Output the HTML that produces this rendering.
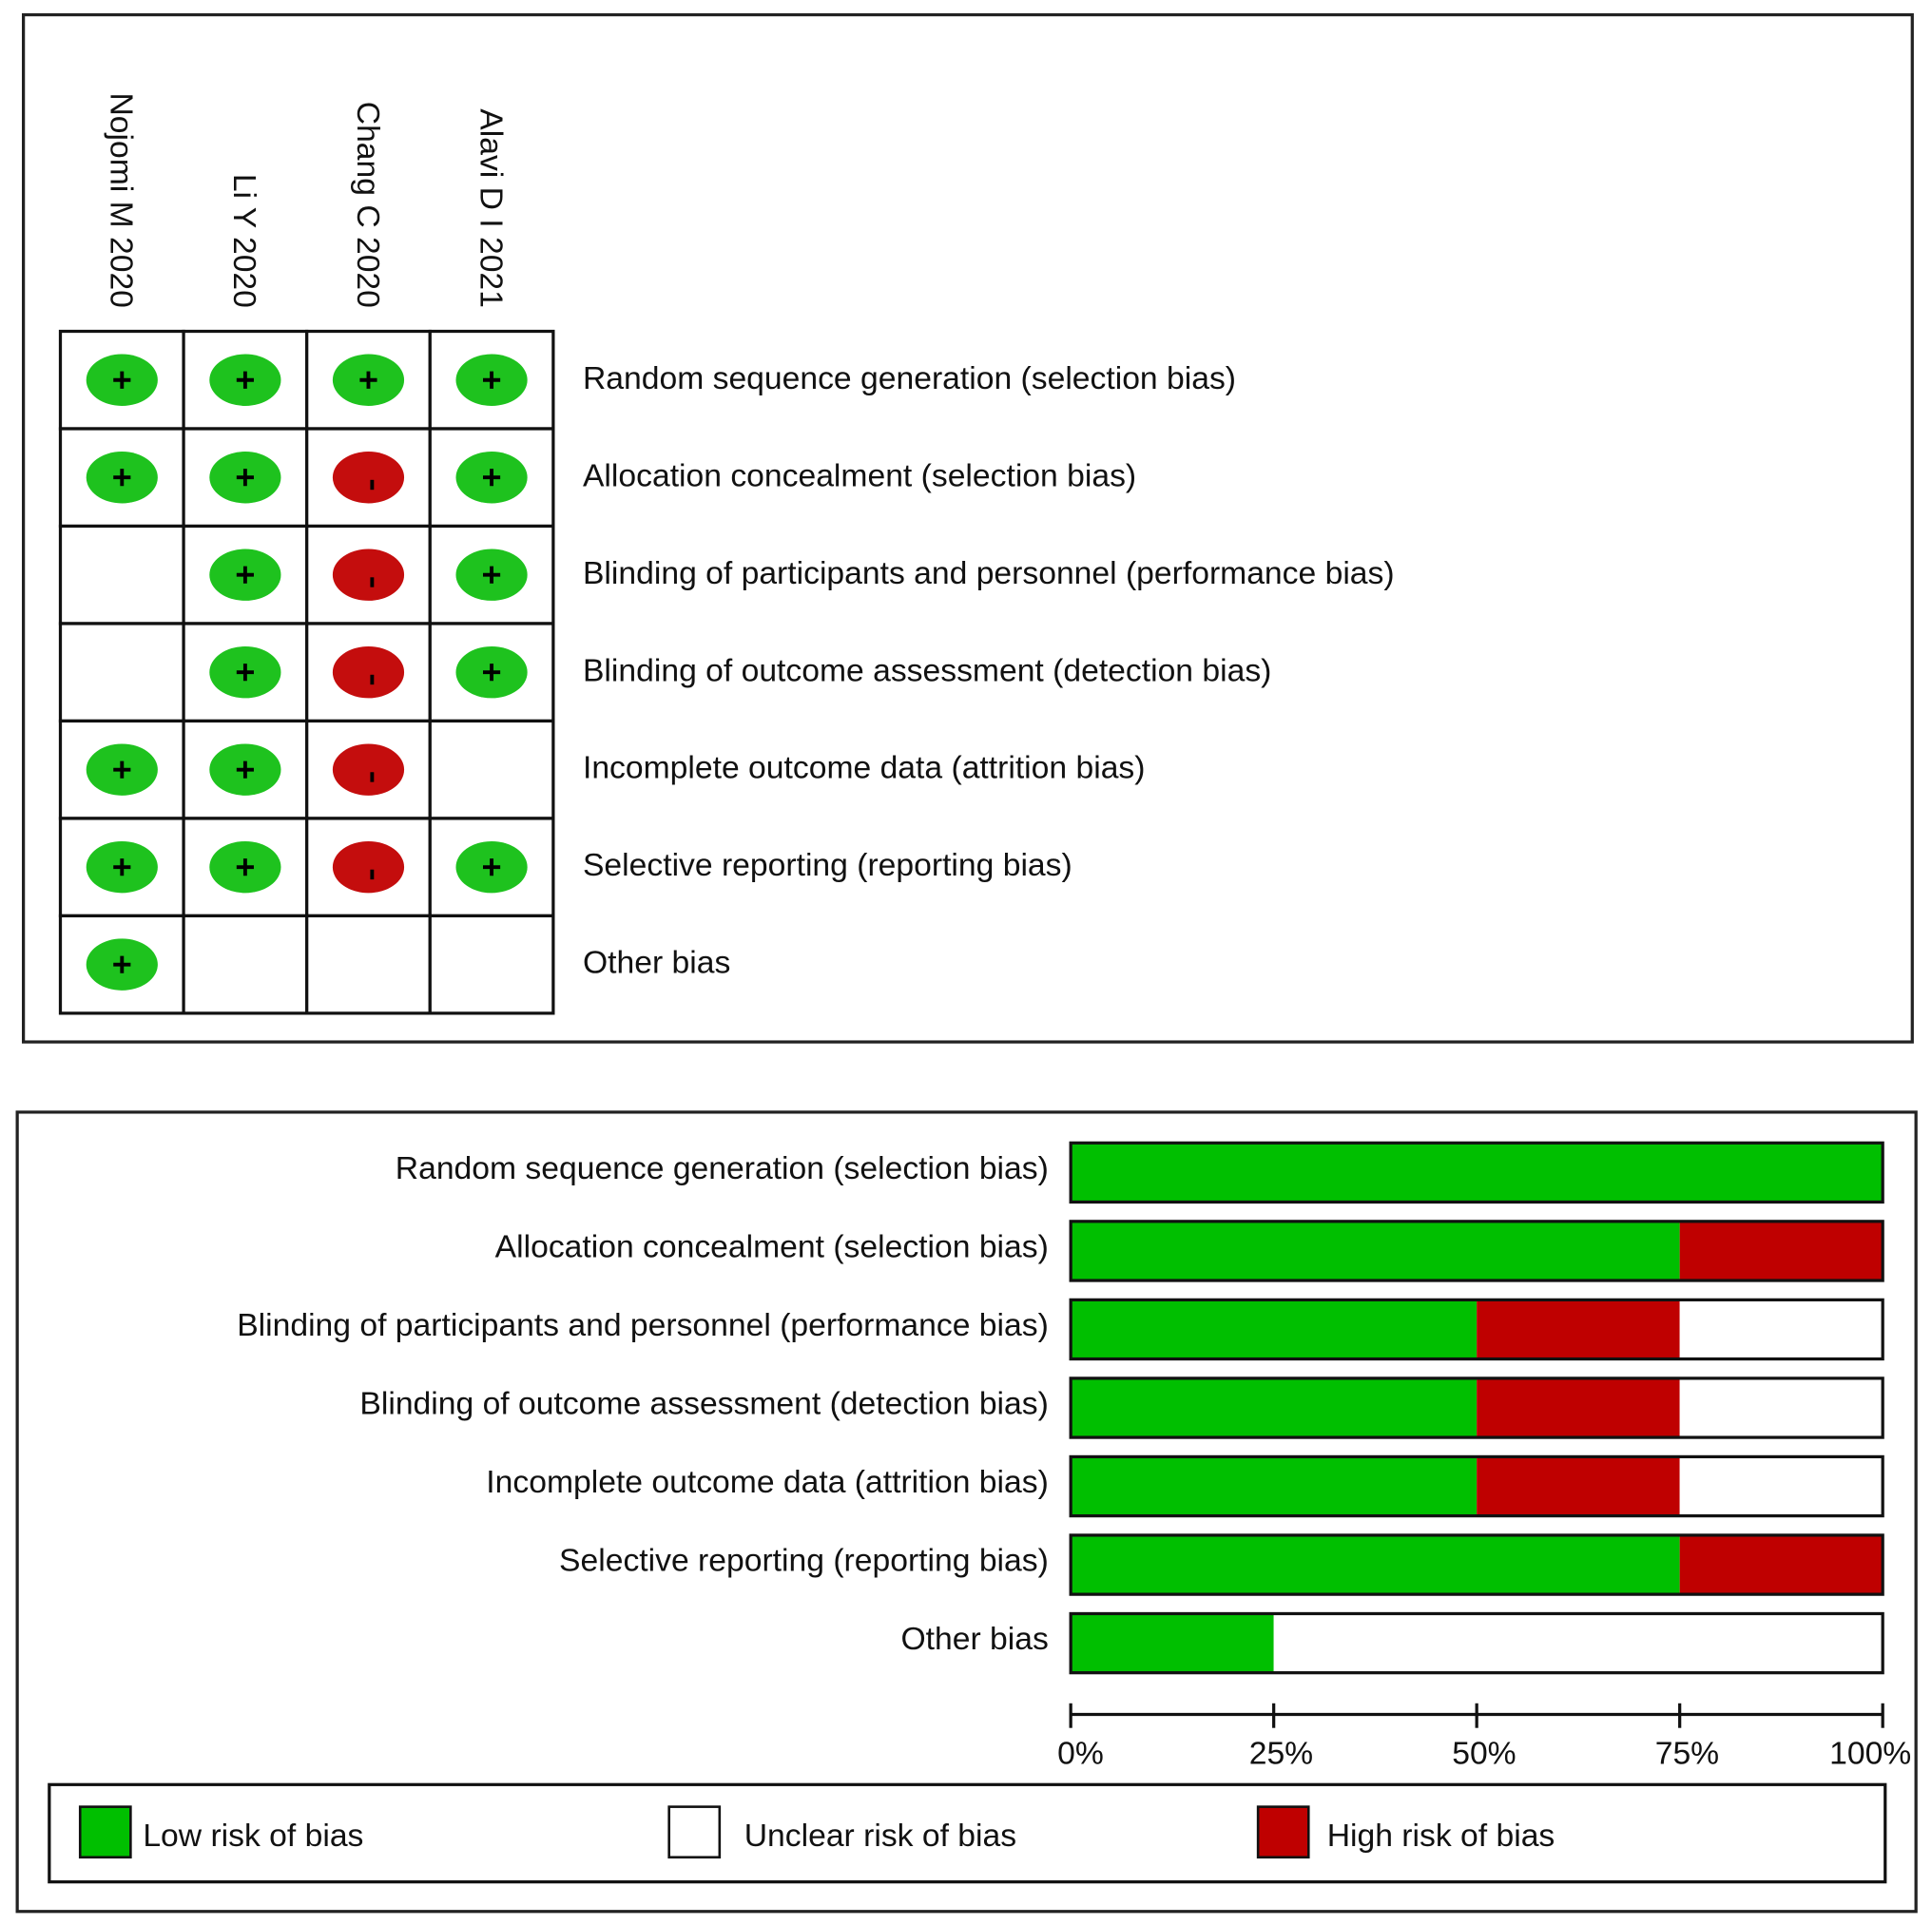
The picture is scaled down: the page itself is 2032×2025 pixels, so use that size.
<!DOCTYPE html>
<html><head><meta charset="utf-8"><style>html,body{margin:0;padding:0;background:#fff}svg{display:block}text{font-family:"Liberation Sans",Arial,sans-serif;fill:#111}</style></head>
<body>
<svg id="chart" width="2032" height="2025" viewBox="0 0 1568 1563" preserveAspectRatio="none" xmlns="http://www.w3.org/2000/svg">
<rect x="19" y="12" width="1533" height="834" fill="#fff" stroke="#222" stroke-width="2.5"/>
<rect x="14" y="903" width="1541" height="649" fill="#fff" stroke="#222" stroke-width="2.5"/>
<g id="topg"></g>
<g id="bottom"></g>
<g id="legend"></g>
</svg>
<script>
const domains=["Random sequence generation (selection bias)","Allocation concealment (selection bias)","Blinding of participants and personnel (performance bias)","Blinding of outcome assessment (detection bias)","Incomplete outcome data (attrition bias)","Selective reporting (reporting bias)","Other bias"];
const studies=["Nojomi M 2020","Li Y 2020","Chang C 2020","Alavi D I 2021"];
const judgNojomi=["+","+","","","+","+","+"];
const judgLi=["+","+","+","+","+","+",""];
const judgChang=["+","-","-","-","-","-",""];
const judgAlavi=["+","+","+","+","","+",""];
const lowPct=[100,75,50,50,50,75,25];
const unclearPct=[0,0,25,25,25,0,75];
const highPct=[0,25,25,25,25,25,0];
const ticks=["0%","25%","50%","75%","100%"];

const NS="http://www.w3.org/2000/svg";
function mk(tag,attrs,parent,txt){const e=document.createElementNS(NS,tag);for(const k in attrs)e.setAttribute(k,attrs[k]);if(txt!==undefined)e.textContent=txt;parent.appendChild(e);return e;}
const GREEN="#00bf00",RED="#bf0000",CG="#1ec21e",CR="#c40d0d";
const FS=26;
const topG=document.getElementById("topg"),bot=document.getElementById("bottom"),leg=document.getElementById("legend");
const gx0=49,cw=100,gy0=269,rh=79.1;
const colX=i=>gx0+i*cw, rowY=j=>gy0+j*rh;
const judg=[judgNojomi,judgLi,judgChang,judgAlavi];
studies.forEach((s,i)=>{
  const t=mk("text",{x:0,y:0,"font-size":FS,"text-anchor":"end",transform:`translate(${colX(i)+cw/2-9},250) rotate(90)`},topG,s);
  
  
});
domains.forEach((d,j)=>{
  const t=mk("text",{x:473,y:rowY(j)+rh/2+7,"font-size":FS},topG,d);
  
  
  studies.forEach((s,i)=>{
    const r=mk("rect",{x:colX(i),y:rowY(j),width:cw,height:rh,fill:"#fff",stroke:"#111","stroke-width":2.5},topG);
    
    
  });
});
studies.forEach((s,i)=>{domains.forEach((d,j)=>{
  const v=judg[i][j]; if(!v) return;
  const cx=colX(i)+cw/2, cy=rowY(j)+rh/2;
  const e=mk("ellipse",{cx:cx,cy:cy,rx:29,ry:21,fill:v==="+"?CG:CR},topG);
  
  
  if(v==="+"){mk("path",{d:`M${cx-7} ${cy}H${cx+7}M${cx} ${cy-7}V${cy+7}`,stroke:"#000","stroke-width":3},topG);}
  else{mk("path",{d:`M${cx+3} ${cy+2}V${cy+10}`,stroke:"#000","stroke-width":3},topG);}
});});
const bx0=869,bw=659,by0=928,bstep=63.7,bh=48;
const xs=p=>bx0+bw*p/100, ys=j=>by0+j*bstep;
domains.forEach((d,j)=>{
  const t=mk("text",{x:851,y:ys(j)+bh/2+5,"font-size":FS,"text-anchor":"end"},bot,d);
  
  
  let acc=0;
  [[lowPct[j],GREEN,'bar-low'],[highPct[j],RED,'bar-high'],[unclearPct[j],"#fff",'bar-unclear']].forEach(([v,c,n])=>{
    if(v>0){const r=mk("rect",{x:xs(acc),y:ys(j),width:xs(acc+v)-xs(acc),height:bh,fill:c},bot);
      
      }
    acc+=v;
  });
  mk("rect",{x:bx0,y:ys(j),width:bw,height:bh,fill:"none",stroke:"#111","stroke-width":2.5},bot);
});
const ax=mk("path",{d:`M${bx0} 1392H${bx0+bw}`,stroke:"#111","stroke-width":2.5},bot);


ticks.forEach((t,i)=>{
  const x=xs(i*25);
  mk("path",{d:`M${x} 1383V1403`,stroke:"#111","stroke-width":2.5},bot);
  const tx=mk("text",{x:x+(i===0?8:i===4?-10:6),y:1432,"font-size":FS,"text-anchor":"middle"},bot,t);
  
  
});
const lb=mk("rect",{x:40,y:1449,width:1490,height:79,fill:"#fff",stroke:"#111","stroke-width":2.5},leg);


[[65,GREEN,116,"Low risk of bias"],[543,"#fff",604,"Unclear risk of bias"],[1021,RED,1077,"High risk of bias"]].forEach(([sx,c,tx,l])=>{
  const r=mk("rect",{x:sx,y:1467,width:41,height:41,fill:c,stroke:"#111","stroke-width":2},leg);
  
  
  const t=mk("text",{x:tx,y:1499,"font-size":FS},leg,l);
  
  
});
</script>
</body></html>
